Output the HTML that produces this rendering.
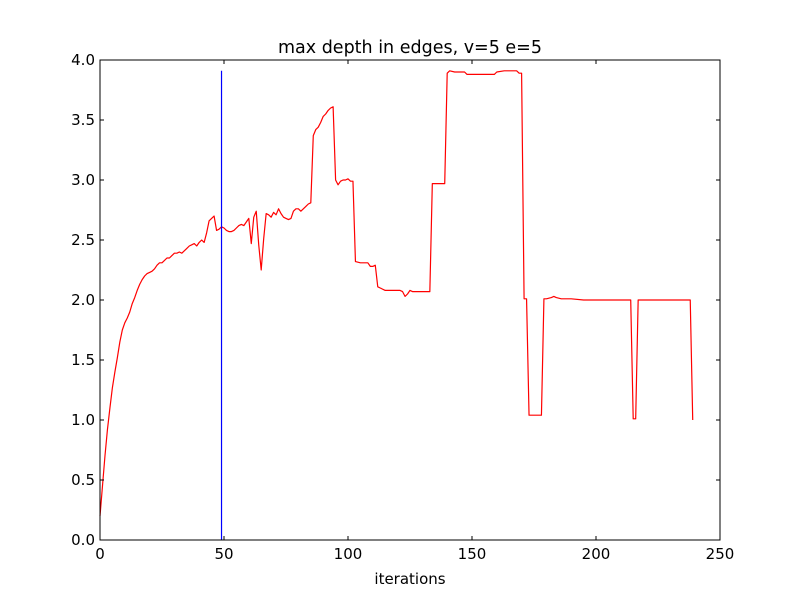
<!DOCTYPE html>
<html><head><meta charset="utf-8">
<style>
body{margin:0;background:#fff;}
svg text{font-family:"DejaVu Sans","Liberation Sans",sans-serif;fill:#000;}
</style></head>
<body>
<svg id="chart" width="800" height="600" xmlns="http://www.w3.org/2000/svg">
<rect width="800" height="600" fill="#fff"/>
<text x="410" y="53" font-size="17.5" text-anchor="middle">max depth in edges, v=5 e=5</text>
<text x="410" y="584" font-size="15" text-anchor="middle">iterations</text>
<g id="plot"></g>
</svg>
<script>
const xTicks = [0, 50, 100, 150, 200, 250];
const yTicks = [0.0, 0.5, 1.0, 1.5, 2.0, 2.5, 3.0, 3.5, 4.0];
const iterations = [0,1,2,3,4,5,6,7,8,9,
10,11,12,13,14,15,16,17,18,19,
20,21,22,23,24,25,26,27,28,29,
30,31,32,33,34,35,36,37,38,39,
40,41,42,43,44,45,46,47,48,49,
50,51,52,53,54,55,56,57,58,59,
60,61,62,63,64,65,66,67,68,69,
70,71,72,73,74,75,76,77,78,79,
80,81,82,83,84,85,86,87,88,89,
90,91,92,93,94,95,96,97,98,99,
100,101,102,103,105,106,108,109,110,111,
112,113,115,118,121,122,123,124,125,126,
127,130,133,134,138,139,140,141,143,147,
148,152,155,158,159,160,163,166,168,169,
170,171,172,173,174,178,179,180,182,183,
184,186,188,190,195,200,205,213,214,215,
216,217,220,230,238,239];
const maxDepth = [0.2,0.45,0.7,0.92,1.1,1.27,1.4,1.52,1.65,1.75,
1.81,1.85,1.9,1.97,2.02,2.08,2.13,2.17,2.2,2.22,
2.23,2.24,2.26,2.29,2.31,2.31,2.33,2.35,2.35,2.37,
2.39,2.39,2.4,2.39,2.41,2.43,2.45,2.46,2.47,2.45,
2.48,2.5,2.48,2.56,2.66,2.68,2.7,2.58,2.59,2.61,
2.6,2.58,2.57,2.57,2.58,2.6,2.62,2.63,2.62,2.65,
2.68,2.47,2.69,2.74,2.46,2.25,2.51,2.72,2.71,2.69,
2.73,2.71,2.76,2.72,2.69,2.68,2.67,2.68,2.74,2.76,
2.76,2.74,2.76,2.78,2.8,2.81,3.37,3.42,3.44,3.48,
3.53,3.55,3.58,3.6,3.61,3.0,2.96,2.99,3.0,3.0,
3.01,2.99,2.99,2.32,2.31,2.31,2.31,2.28,2.28,2.29,
2.11,2.1,2.08,2.08,2.08,2.07,2.03,2.05,2.08,2.07,
2.07,2.07,2.07,2.97,2.97,2.97,3.89,3.91,3.9,3.9,
3.88,3.88,3.88,3.88,3.88,3.9,3.91,3.91,3.91,3.89,
3.89,2.01,2.01,1.04,1.04,1.04,2.01,2.01,2.02,2.03,
2.02,2.01,2.01,2.01,2.0,2.0,2.0,2.0,2.0,1.01,
1.01,2.0,2.0,2.0,2.0,1.0];
const markerIteration = [49];
const markerHeight = [3.91];

const NS = "http://www.w3.org/2000/svg";
const L = 100, R = 720, T = 60, B = 540;
const xs = v => L + (v - 0) / 250 * (R - L);
const ys = v => B - (v - 0) / 4 * (B - T);
const g = document.getElementById('plot');
function mk(tag, attrs) {
  const e = document.createElementNS(NS, tag);
  for (const k in attrs) e.setAttribute(k, attrs[k]);
  g.appendChild(e);
  return e;
}
let d = '';
iterations.forEach((x, i) => { d += (i ? 'L' : 'M') + xs(x).toFixed(2) + ' ' + ys(maxDepth[i]).toFixed(2); });
const line = mk('path', {d: d, fill: 'none', stroke: '#ff0000', 'stroke-width': 1.2, 'stroke-linejoin': 'round'});


const vl = mk('line', {x1: xs(markerIteration[0]), x2: xs(markerIteration[0]), y1: ys(0), y2: ys(markerHeight[0]), stroke: '#0000ff', 'stroke-width': 1.2});


const fr = mk('rect', {x: L, y: T, width: R - L, height: B - T, fill: 'none', stroke: '#000', 'stroke-width': 1});


xTicks.forEach(t => {
  const x = xs(t);
  const a = mk('line', {x1: x, x2: x, y1: B, y2: B - 4, stroke: '#000'});
  
  
  const b = mk('line', {x1: x, x2: x, y1: T, y2: T + 4, stroke: '#000'});
  
  
  const tx = mk('text', {x: x, y: B + 19, 'font-size': 15, 'text-anchor': 'middle'});
  tx.textContent = String(t);
  
  
});
yTicks.forEach(t => {
  const y = ys(t);
  const a = mk('line', {x1: L, x2: L + 4, y1: y, y2: y, stroke: '#000'});
  
  
  const b = mk('line', {x1: R, x2: R - 4, y1: y, y2: y, stroke: '#000'});
  
  
  const tx = mk('text', {x: L - 5, y: y + 5, 'font-size': 15, 'text-anchor': 'end'});
  tx.textContent = t.toFixed(1);
  
  
});
</script>
</body></html>
